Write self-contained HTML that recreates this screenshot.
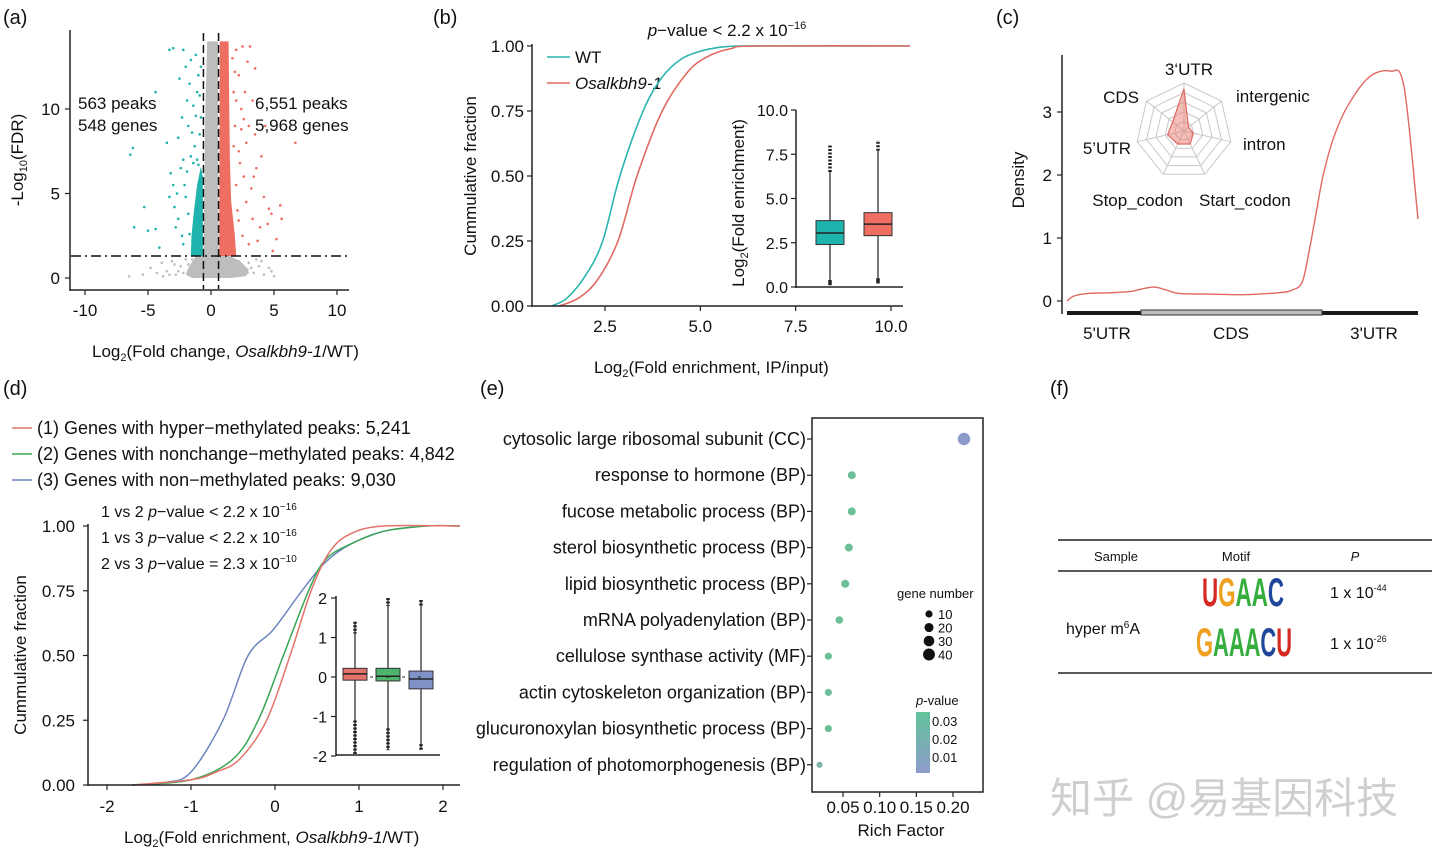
<!DOCTYPE html>
<html><head><meta charset="utf-8">
<style>
html,body{margin:0;padding:0;background:#fff;}
svg{display:block;font-family:"Liberation Sans","Noto Sans CJK SC",sans-serif;}
</style></head>
<body>
<svg id="fig" width="1440" height="857" viewBox="0 0 1440 857" xmlns="http://www.w3.org/2000/svg">
<g id="static" fill="#111" font-size="17">
  <text x="3" y="24" font-size="20">(a)</text>
  <text x="433" y="24" font-size="20">(b)</text>
  <text x="996" y="24" font-size="20">(c)</text>
  <text x="3" y="395" font-size="20">(d)</text>
  <text x="480" y="395" font-size="20">(e)</text>
  <text x="1050" y="395" font-size="20">(f)</text>

  <text x="78" y="109">563 peaks</text>
  <text x="78" y="131">548 genes</text>
  <text x="255" y="109">6,551 peaks</text>
  <text x="255" y="131">5,968 genes</text>
  <text x="92" y="357">Log<tspan font-size="11" dy="4">2</tspan><tspan dy="-4">(Fold change, </tspan><tspan font-style="italic">Osalkbh9-1</tspan>/WT)</text>
  <text transform="translate(23,160) rotate(-90)" text-anchor="middle">-Log<tspan font-size="11" dy="4">10</tspan><tspan dy="-4">(FDR)</tspan></text>

  <text x="727" y="36" text-anchor="middle"><tspan font-style="italic">p</tspan>−value &lt; 2.2 x 10<tspan font-size="11" dy="-7">−16</tspan></text>
  <text x="594" y="373">Log<tspan font-size="11" dy="4">2</tspan><tspan dy="-4">(Fold enrichment, IP/input)</tspan></text>
  <text transform="translate(476,176) rotate(-90)" text-anchor="middle">Cummulative fraction</text>
  <text transform="translate(744,203) rotate(-90)" text-anchor="middle">Log<tspan font-size="11" dy="4">2</tspan><tspan dy="-4">(Fold enrichment)</tspan></text>
  <line x1="547" y1="57" x2="570" y2="57" stroke="#2bb5b0" stroke-width="1.6"/>
  <text x="575" y="63">WT</text>
  <line x1="547" y1="83" x2="570" y2="83" stroke="#e06a62" stroke-width="1.6"/>
  <text x="575" y="89" font-style="italic">Osalkbh9-1</text>

  <text transform="translate(1024,180) rotate(-90)" text-anchor="middle">Density</text>
  <text x="1107" y="339" text-anchor="middle">5'UTR</text>
  <text x="1231" y="339" text-anchor="middle">CDS</text>
  <text x="1374" y="339" text-anchor="middle">3'UTR</text>

  <line x1="12" y1="428" x2="32" y2="428" stroke="#e5736b" stroke-width="1.6"/>
  <text x="37" y="434" font-size="18">(1) Genes with hyper−methylated peaks: 5,241</text>
  <line x1="12" y1="454" x2="32" y2="454" stroke="#3aa655" stroke-width="1.6"/>
  <text x="37" y="460" font-size="18">(2) Genes with nonchange−methylated peaks: 4,842</text>
  <line x1="12" y1="480" x2="32" y2="480" stroke="#6e85c0" stroke-width="1.6"/>
  <text x="37" y="486" font-size="18">(3) Genes with non−methylated peaks: 9,030</text>
  <text x="101" y="517" font-size="16">1 vs 2 <tspan font-style="italic">p</tspan>−value &lt; 2.2 x 10<tspan font-size="10" dy="-7">−16</tspan></text>
  <text x="101" y="543" font-size="16">1 vs 3 <tspan font-style="italic">p</tspan>−value &lt; 2.2 x 10<tspan font-size="10" dy="-7">−16</tspan></text>
  <text x="101" y="569" font-size="16">2 vs 3 <tspan font-style="italic">p</tspan>−value = 2.3 x 10<tspan font-size="10" dy="-7">−10</tspan></text>
  <text x="124" y="843">Log<tspan font-size="11" dy="4">2</tspan><tspan dy="-4">(Fold enrichment, </tspan><tspan font-style="italic">Osalkbh9-1</tspan>/WT)</text>
  <text transform="translate(26,655) rotate(-90)" text-anchor="middle">Cummulative fraction</text>

  <text x="901" y="836" text-anchor="middle">Rich Factor</text>
  <text x="897" y="598" font-size="13">gene number</text>
  <text x="916" y="705" font-size="13"><tspan font-style="italic">p</tspan>-value</text>

  <line x1="1058" y1="540" x2="1432" y2="540" stroke="#222" stroke-width="1.5"/>
  <line x1="1058" y1="571" x2="1432" y2="571" stroke="#222" stroke-width="1.5"/>
  <line x1="1058" y1="673" x2="1432" y2="673" stroke="#222" stroke-width="1.5"/>
  <text x="1116" y="561" font-size="13" text-anchor="middle">Sample</text>
  <text x="1236" y="561" font-size="13" text-anchor="middle">Motif</text>
  <text x="1355" y="561" font-size="13" font-style="italic" text-anchor="middle">P</text>
  <text x="1066" y="634" font-size="16">hyper m<tspan font-size="10" dy="-6">6</tspan><tspan dy="6">A</tspan></text>
  <text x="1330" y="598" font-size="16">1 x 10<tspan font-size="9" dy="-7">-44</tspan></text>
  <text x="1330" y="649" font-size="16">1 x 10<tspan font-size="9" dy="-7">-26</tspan></text>
  <text x="1202" y="606" font-size="40" font-weight="bold" textLength="82" lengthAdjust="spacingAndGlyphs"><tspan fill="#d42a22">U</tspan><tspan fill="#f0a020">G</tspan><tspan fill="#36ad3f">A</tspan><tspan fill="#36ad3f">A</tspan><tspan fill="#20479b">C</tspan></text>
  <text x="1196" y="656" font-size="40" font-weight="bold" textLength="96" lengthAdjust="spacingAndGlyphs"><tspan fill="#f0a020">G</tspan><tspan fill="#36ad3f">A</tspan><tspan fill="#36ad3f">A</tspan><tspan fill="#36ad3f">A</tspan><tspan fill="#20479b">C</tspan><tspan fill="#d42a22">U</tspan></text>

  <text x="1050" y="813" font-size="42" fill="#cfcfcf">知乎 @易基因科技</text>
</g>
<g id="dyn"></g>
</svg>
<script>
// ---------- DATA ----------
const downX = [-6.2,-6.4,-5.3,-6.1,-5.0,-4.4,-4.4,-4.1,-3.3,-3.0,-3.5,-3.2,-3.0,-3.3,-2.9,-2.8,-2.5,-2.2,-2.3,-2.6,-2.0,-2.2,-2.4,-2.1,-2.6,-2.3,-1.9,-1.8,-1.7,-1.9,-2.0,-1.6,-1.2,-1.4,-1.5,-1.2,-1.3,-1.1,-1.0,-0.9,-1.8,-2.2,-1.7,-1.6,-2.7,-1.4,-1.1,-0.8,-0.9,-1.0,-0.8];
const downY = [7.7,7.3,4.2,3.0,2.8,11.0,2.9,1.8,13.5,13.6,8.0,6.2,5.5,4.8,4.2,3.0,11.8,13.5,9.5,8.3,12.5,7.0,6.5,5.5,3.5,2.5,10.5,9.0,11.5,6.3,4.8,12.9,13.2,10.2,8.6,9.6,7.8,11.0,12.0,8.5,3.8,2.0,2.6,7.2,5.0,6.8,7.0,9.5,10.8,6.7,12.5];
const upX = [2.0,2.5,3.1,2.2,2.7,3.3,2.4,4.3,6.7,3.0,2.8,3.5,2.2,3.6,4.0,2.6,3.2,4.2,5.5,5.6,4.8,3.3,2.8,3.9,4.5,5.2,4.9,2.5,3.0,2.2,1.9,1.8,2.0,2.1,3.5,2.9,4.6,3.7,2.3,2.6,1.9,3.4,1.7,1.8,2.4,2.0];
const upY = [13.5,13.7,13.7,12.0,11.0,10.5,10.0,9.0,8.0,9.0,8.0,8.5,7.5,6.5,7.2,6.0,5.3,4.8,4.3,3.5,3.8,3.5,4.5,3.0,3.2,2.3,1.6,2.5,2.0,3.4,9.0,11.0,5.5,4.0,12.4,12.8,4.1,2.2,6.8,9.4,12.2,6.0,13.0,7.8,8.8,10.5];
const grayX = [-6.5,-5.4,-4.8,-4.3,-3.9,-3.5,-3.1,-2.8,-2.4,-2.0,2.2,2.6,3.0,3.4,3.8,4.2,4.6,5.0,-3.3,-2.6,2.9,3.6,-2.2,-1.8,-1.5,1.8,2.4,3.2,4.0,4.8,-2.9,-3.8];
const grayY = [0.1,0.2,0.6,0.3,0.9,0.4,1.0,0.2,0.7,1.1,1.0,0.5,0.9,0.3,0.7,0.2,0.6,0.1,0.2,0.4,0.3,1.1,0.3,0.8,1.1,0.2,0.8,0.6,1.0,0.4,0.8,0.1];
const grayBandX = [-1.8,-1.2,-0.6,-0.45,-0.3,0.55,0.6,1.5,2.3,3.0,2.8,1.5,-1.5,-2.0];
const grayBandY = [0.6,1.3,1.3,10,14,14,1.3,1.3,1.0,0.5,0.1,0,0,0.2];
const upBandX = [0.65,0.7,1.4,1.45,1.5,1.6,1.9,2.0,0.65];
const upBandY = [1.3,14,14,10,7,4.5,2.5,1.3,1.3];
const downBandX = [-0.65,-0.65,-0.8,-1.1,-1.35,-1.55,-1.6];
const downBandY = [1.3,6.0,6.6,5.5,4.0,2.5,1.3];

const wtX = [1.1,1.5,2.0,2.44,2.89,3.5,4.0,4.5,5.0,5.5,6.0,7.0,10.5];
const wtY = [0,0.03,0.12,0.25,0.5,0.75,0.88,0.95,0.98,0.995,1,1,1];
const mutX = [1.3,1.8,2.3,2.84,3.34,4.0,4.67,5.2,5.8,6.5,10.5];
const mutY = [0,0.03,0.1,0.25,0.5,0.75,0.9,0.96,0.99,1,1];
const bTicksX = [2.5,5.0,7.5,10.0];
const bTickLabelsX = ["2.5","5.0","7.5","10.0"];
const bTicksY = [0,0.25,0.5,0.75,1];
const bTickLabelsY = ["0.00","0.25","0.50","0.75","1.00"];
const bBoxNames = ["WT","Osalkbh9-1"];
const bBoxLow = [0.4,0.5];
const bBoxQ1 = [2.4,2.9];
const bBoxMed = [3.05,3.55];
const bBoxQ3 = [3.75,4.2];
const bBoxHigh = [6.5,7.7];
const bBoxMaxOut = [8.0,8.3];
const bInsetTicks = [0,2.5,5,7.5,10];
const bInsetTickLabels = ["0.0","2.5","5.0","7.5","10.0"];

const cPos = [0,0.02,0.06,0.12,0.18,0.22,0.25,0.28,0.32,0.4,0.5,0.6,0.64,0.67,0.69,0.71,0.73,0.76,0.8,0.86,0.92,0.96,1.0];
const cDens = [0,0.08,0.12,0.13,0.15,0.2,0.22,0.18,0.12,0.11,0.1,0.13,0.17,0.3,0.8,1.4,2.0,2.6,3.1,3.55,3.65,3.4,1.3];
const cTicks = [0,1,2,3];
const radarLabels = ["3‘UTR","intergenic","intron","Start_codon","Stop_codon","5’UTR","CDS"];
const radarValues = [0.88,0.12,0.2,0.3,0.3,0.35,0.3];

const hypX = [-1.7,-1.0,-0.7,-0.42,-0.1,0.18,0.43,0.65,0.9,1.3,2.2];
const hypY = [0,0.02,0.05,0.1,0.25,0.5,0.75,0.9,0.97,1,1];
const nonchX = [-1.7,-1.0,-0.5,-0.2,0.1,0.4,0.6,0.9,1.3,1.8,2.2];
const nonchY = [0,0.02,0.1,0.25,0.5,0.75,0.87,0.93,0.98,1,1];
const nonmX = [-1.7,-1.3,-1.0,-0.62,-0.32,-0.02,0.32,0.6,0.9,1.3,1.8,2.2];
const nonmY = [0,0.01,0.05,0.25,0.5,0.6,0.75,0.86,0.93,0.98,1,1];
const dTicksX = [-2,-1,0,1,2];
const dTicksY = [0,0.25,0.5,0.75,1];
const dTickLabelsY = ["0.00","0.25","0.50","0.75","1.00"];
const dBoxLow = [-1.1,-1.3,-1.7];
const dBoxQ1 = [-0.08,-0.1,-0.3];
const dBoxMed = [0.08,0.02,-0.05];
const dBoxQ3 = [0.22,0.22,0.15];
const dBoxHigh = [1.1,1.8,1.8];
const dBoxMin = [-1.95,-1.85,-1.85];
const dBoxMax = [1.4,2.0,1.95];
const dInsetTicks = [-2,-1,0,1,2];

const goTerms = ["cytosolic large ribosomal subunit (CC)","response to hormone (BP)","fucose metabolic process (BP)","sterol biosynthetic process (BP)","lipid biosynthetic process (BP)","mRNA polyadenylation (BP)","cellulose synthase activity (MF)","actin cytoskeleton organization (BP)","glucuronoxylan biosynthetic process (BP)","regulation of photomorphogenesis (BP)"];
const goRich = [0.215,0.062,0.062,0.058,0.053,0.045,0.03,0.03,0.03,0.018];
const goCount = [45,14,14,14,14,12,10,10,10,6];
const goP = [0.005,0.03,0.03,0.03,0.03,0.03,0.03,0.03,0.03,0.02];
const eTicks = [0.05,0.10,0.15,0.20];
const eTickLabels = ["0.05","0.10","0.15","0.20"];
const sizeLegend = [10,20,30,40];

// ---------- HELPERS ----------
const NS = "http://www.w3.org/2000/svg";
const root = document.getElementById("dyn");
function mk(tag, attrs, parent){
  const e = document.createElementNS(NS, tag);
  for (const k in attrs) e.setAttribute(k, attrs[k]);
  (parent||root).appendChild(e);
  return e;
}
function lin(d0,d1,r0,r1){ return v => r0 + (v-d0)/(d1-d0)*(r1-r0); }
function smoothFrom(xs, ys, sx, sy){
  const P = xs.map((v,i)=>[sx(v), sy(ys[i])]);
  let d = "M"+P[0][0].toFixed(1)+","+P[0][1].toFixed(1);
  for (let i=0;i<P.length-1;i++){
    const p0 = P[Math.max(0,i-1)], p1 = P[i], p2 = P[i+1], p3 = P[Math.min(P.length-1,i+2)];
    const c1 = [p1[0]+(p2[0]-p0[0])/6, p1[1]+(p2[1]-p0[1])/6];
    const c2 = [p2[0]-(p3[0]-p1[0])/6, p2[1]-(p3[1]-p1[1])/6];
    d += "C"+c1[0].toFixed(1)+","+c1[1].toFixed(1)+" "+c2[0].toFixed(1)+","+c2[1].toFixed(1)+" "+p2[0].toFixed(1)+","+p2[1].toFixed(1);
  }
  return d;
}
function polyFrom(xs, ys, sx, sy){
  return xs.map((v,i)=>sx(v).toFixed(1)+","+sy(ys[i]).toFixed(1)).join(" ");
}
function txt(x,y,s,anchor,size,nm){
  const t = mk("text",{x:x,y:y,"text-anchor":anchor||"middle","font-size":size||17,fill:"#111"});
  t.textContent = s;
  
  
  return t;
}
function axLine(x1,y1,x2,y2,nm,w){
  const l = mk("line",{x1:x1,y1:y1,x2:x2,y2:y2,stroke:"#222","stroke-width":w||1.5});
  
  
  return l;
}

// ---------- PANEL A ----------
(function(){
  const sx = lin(0,10,211,337), sy = lin(0,10,278,109);
  let p;
  p = mk("polygon",{points:polyFrom(grayBandX,grayBandY,sx,sy),fill:"#bdbdbd"});
  
  
  p = mk("polygon",{points:polyFrom(upBandX,upBandY,sx,sy),fill:"#ee6e62"});
  
  
  p = mk("polygon",{points:polyFrom(downBandX,downBandY,sx,sy),fill:"#1fb3ad"});
  
  
  grayX.forEach((v,i)=>{ const c = mk("circle",{cx:sx(v),cy:sy(grayY[i]),r:1.3,fill:"#bdbdbd"});
    
     });
  downX.forEach((v,i)=>{ const c = mk("circle",{cx:sx(v),cy:sy(downY[i]),r:1.3,fill:"#1fb3ad"});
    
     });
  upX.forEach((v,i)=>{ const c = mk("circle",{cx:sx(v),cy:sy(upY[i]),r:1.3,fill:"#ee6e62"});
    
     });
  let l = mk("line",{x1:71,y1:sy(1.3),x2:349,y2:sy(1.3),stroke:"#111","stroke-width":1.5,"stroke-dasharray":"10,4,2,4"});
  
  
  [-0.6,0.6].forEach(v=>{ const d = mk("line",{x1:sx(v),y1:33,x2:sx(v),y2:289,stroke:"#111","stroke-width":1.5,"stroke-dasharray":"8,4"});
    
     });
  axLine(70,30,70,291,"a-y-axis");
  axLine(70,290,349,290,"a-x-axis");
  [-10,-5,0,5,10].forEach(v=>{ axLine(sx(v),290,sx(v),295,"a-x-tick",1.2); txt(sx(v),316,String(v),"middle",17,"a-x-tick-label"); });
  [0,5,10].forEach(v=>{ axLine(65,sy(v),70,sy(v),"a-y-tick",1.2); txt(60,sy(v)+6,String(v),"end",17,"a-y-tick-label"); });
})();

// ---------- PANEL B ----------
(function(){
  const sx = lin(2.5,10,605,891), sy = lin(0,1,306,46);
  let pa = mk("path",{d:smoothFrom(wtX,wtY,sx,sy),fill:"none",stroke:"#2bb5b0","stroke-width":1.6});
  
  
  pa = mk("path",{d:smoothFrom(mutX,mutY,sx,sy),fill:"none",stroke:"#e06a62","stroke-width":1.6});
  
  
  axLine(532,44,532,307,"b-y-axis");
  axLine(532,306,903,306,"b-x-axis");
  bTicksX.forEach((v,i)=>{ axLine(sx(v),306,sx(v),311,"b-x-tick",1.2); txt(sx(v),332,bTickLabelsX[i],"middle",17,"b-x-tick-label"); });
  bTicksY.forEach((v,i)=>{ axLine(527,sy(v),532,sy(v),"b-y-tick",1.2); txt(524,sy(v)+6,bTickLabelsY[i],"end",17,"b-y-tick-label"); });
  const iy = lin(0,10,287,110);
  const cols = ["#1fb3ad","#ee6e62"], xs = [830,878];
  axLine(796,110,796,288,"b-inset-y-axis");
  axLine(796,287,903,287,"b-inset-x-axis");
  bInsetTicks.forEach((v,i)=>{ axLine(791,iy(v),796,iy(v),"b-inset-tick",1.2); txt(788,iy(v)+6,bInsetTickLabels[i],"end",16,"b-inset-tick-label"); });
  bBoxNames.forEach((n,i)=>{
    const cx = xs[i];
    axLine(cx,iy(bBoxLow[i]),cx,iy(bBoxHigh[i]),"b-box-whisker",1.2);
    const r = mk("rect",{x:cx-14,y:iy(bBoxQ3[i]),width:28,height:iy(bBoxQ1[i])-iy(bBoxQ3[i]),fill:cols[i],stroke:"#333","stroke-width":1});
    
    
    axLine(cx-14,iy(bBoxMed[i]),cx+14,iy(bBoxMed[i]),"b-box-median",1.5);
    const o1 = mk("line",{x1:cx,y1:iy(bBoxHigh[i]),x2:cx,y2:iy(bBoxMaxOut[i]),stroke:"#222","stroke-width":3.5,"stroke-dasharray":"2,1.5"});
    
    
    const o2 = mk("line",{x1:cx,y1:iy(bBoxLow[i]),x2:cx,y2:iy(bBoxLow[i]-0.3),stroke:"#222","stroke-width":3.5});
    
    
  });
})();

// ---------- PANEL C ----------
(function(){
  const sx = lin(0,1,1067,1418), sy = lin(0,3,301,112);
  const pa = mk("path",{d:smoothFrom(cPos,cDens,sx,sy),fill:"none",stroke:"#e06a62","stroke-width":1.4});
  
  
  axLine(1062,55,1062,314,"c-y-axis");
  cTicks.forEach(v=>{ axLine(1057,sy(v),1062,sy(v),"c-y-tick",1.2); txt(1052,sy(v)+6,String(v),"end",17,"c-y-tick-label"); });
  let b = mk("rect",{x:1067,y:311,width:351,height:4,fill:"#1a1a1a"});
  
  
  b = mk("rect",{x:1141,y:310,width:181,height:5,fill:"#bdbdbd",stroke:"#333","stroke-width":1});
  
  
  const cx=1184, cy=131, R=48, n=radarLabels.length;
  const ang = i => -Math.PI/2 + i*2*Math.PI/n;
  for (let k=1;k<=5;k++){
    const pts = radarLabels.map((_,i)=>(cx+R*k/5*Math.cos(ang(i))).toFixed(1)+","+(cy+R*k/5*Math.sin(ang(i))).toFixed(1)).join(" ");
    const g = mk("polygon",{points:pts,fill:"none",stroke:"#c8c8c8","stroke-width":1});
    
    
  }
  radarLabels.forEach((_,i)=>{ const s = mk("line",{x1:cx,y1:cy,x2:cx+R*Math.cos(ang(i)),y2:cy+R*Math.sin(ang(i)),stroke:"#c8c8c8","stroke-width":1});
    
     });
  const vp = radarValues.map((v,i)=>(cx+R*v*Math.cos(ang(i))).toFixed(1)+","+(cy+R*v*Math.sin(ang(i))).toFixed(1)).join(" ");
  const rp = mk("polygon",{points:vp,fill:"rgba(236,110,100,0.45)",stroke:"#e06a62","stroke-width":1.2});
  
  
  const lp = [[1189,75,"middle"],[1236,102,"start"],[1243,150,"start"],[1199,206,"start"],[1183,206,"end"],[1131,154,"end"],[1139,103,"end"]];
  radarLabels.forEach((s,i)=>txt(lp[i][0],lp[i][1],s,lp[i][2],17,"radar-label"));
})();

// ---------- PANEL D ----------
(function(){
  const sx = lin(0,1,275,359), sy = lin(0,1,785,526);
  const series = [[nonmX,nonmY,"#6e85c0","nonmethylated-cdf-line"],[nonchX,nonchY,"#3aa655","nonchange-cdf-line"],[hypX,hypY,"#e5736b","hyper-cdf-line"]];
  series.forEach(s=>{ const pa = mk("path",{d:smoothFrom(s[0],s[1],sx,sy),fill:"none",stroke:s[2],"stroke-width":1.5});
    
     });
  axLine(88,524,88,786,"d-y-axis");
  axLine(88,785,460,785,"d-x-axis");
  dTicksX.forEach(v=>{ axLine(sx(v),785,sx(v),790,"d-x-tick",1.2); txt(sx(v),812,String(v),"middle",17,"d-x-tick-label"); });
  dTicksY.forEach((v,i)=>{ axLine(83,sy(v),88,sy(v),"d-y-tick",1.2); txt(75,sy(v)+6,dTickLabelsY[i],"end",17,"d-y-tick-label"); });
  const iy = lin(0,1,677,637.5);
  axLine(336,596,336,756,"d-inset-y-axis");
  axLine(336,755,440,755,"d-inset-x-axis");
  dInsetTicks.forEach(v=>{ axLine(331,iy(v),336,iy(v),"d-inset-tick",1.2); txt(327,iy(v)+6,String(v),"end",16,"d-inset-tick-label"); });
  const xs=[355,388,421], cols=["#e5736b","#4fb56c","#7f93c8"];
  xs.forEach((cx,i)=>{
    const ol = mk("line",{x1:cx,y1:iy(dBoxMax[i]),x2:cx,y2:iy(dBoxMin[i]),stroke:"#222","stroke-width":1.2});
    
    
    const oh = mk("line",{x1:cx,y1:iy(dBoxMax[i]),x2:cx,y2:iy(dBoxHigh[i]),stroke:"#222","stroke-width":3.5,"stroke-dasharray":"2,1.5"});
    
    
    const olo = mk("line",{x1:cx,y1:iy(dBoxLow[i]),x2:cx,y2:iy(dBoxMin[i]),stroke:"#222","stroke-width":3.5,"stroke-dasharray":"2,1.5"});
    
    
    const r = mk("rect",{x:cx-12,y:iy(dBoxQ3[i]),width:24,height:iy(dBoxQ1[i])-iy(dBoxQ3[i]),fill:cols[i],stroke:"#333","stroke-width":1});
    
    
    axLine(cx-12,iy(dBoxMed[i]),cx+12,iy(dBoxMed[i]),"d-box-median",1.5);
  });
  const zl = mk("line",{x1:370,y1:iy(0),x2:434,y2:iy(0),stroke:"#222","stroke-width":1,"stroke-dasharray":"3,13"});
  
  
})();

// ---------- PANEL E ----------
(function(){
  const sx = lin(0.05,0.20,843,953);
  const rows = goTerms.map((_,i)=>439 + i*36.2);
  const fr = mk("rect",{x:812,y:418,width:171,height:374,fill:"none",stroke:"#222","stroke-width":1.5});
  
  
  goTerms.forEach((t,i)=>{
    txt(806,rows[i]+6,t,"end",18,"go-term-label");
    axLine(807,rows[i],812,rows[i],"e-y-tick",1.2);
    const col = goP[i] < 0.015 ? "#8c9bcb" : (goP[i] < 0.025 ? "#7fb3a8" : "#6cbf98");
    const c = mk("circle",{cx:sx(goRich[i]),cy:rows[i],r:1.2+Math.sqrt(goCount[i])*0.75,fill:col});
    
    
  });
  eTicks.forEach((v,i)=>{ axLine(sx(v),792,sx(v),797,"e-x-tick",1.2); txt(sx(v),813,eTickLabels[i],"middle",17,"e-x-tick-label"); });
  sizeLegend.forEach((v,i)=>{
    const c = mk("circle",{cx:929,cy:614+i*13.5,r:1.2+Math.sqrt(v)*0.75,fill:"#111"});
    
    
    txt(938,619+i*13.5,String(v),"start",13,"size-legend-label");
  });
  const defs = mk("defs",{});
  const lg = mk("linearGradient",{id:"pg",x1:0,y1:0,x2:0,y2:1},defs);
  mk("stop",{offset:"0","stop-color":"#62c39a"},lg);
  mk("stop",{offset:"1","stop-color":"#8d9bcb"},lg);
  const gr = mk("rect",{x:916,y:712,width:14,height:61,fill:"url(#pg)"});
  
  
  ["0.03","0.02","0.01"].forEach((s,i)=>txt(932,726+i*18,s,"start",13,"pvalue-legend-label"));
})();
</script>
</body></html>
